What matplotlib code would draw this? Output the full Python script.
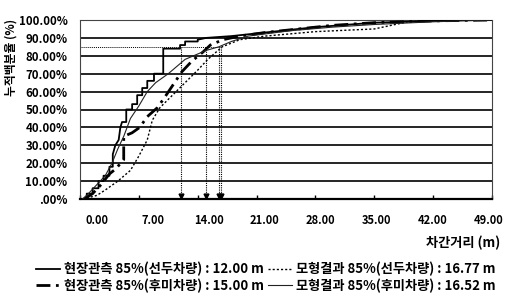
import matplotlib
matplotlib.use("Agg")
import matplotlib.pyplot as plt

plt.rcParams['font.family'] = ['Noto Sans CJK KR', 'DejaVu Sans']
plt.rcParams['font.weight'] = 'bold'

# observed (leading vehicle) - step-like curve
obs_lead_x = [0.3, 0.8, 0.8, 1.5, 1.5, 2.2, 2.2, 2.8, 2.8, 3.5, 3.5, 3.9, 3.9, 4.2, 4.6, 4.8, 5.0, 5.5,
              5.5, 6.2, 6.2, 6.8, 6.8, 7.4, 7.4, 8.0, 8.0, 8.8, 8.8, 9.9, 9.9, 11.9, 11.9, 12.5, 12.5,
              14.0, 14.0, 15.0, 18.0, 20.0, 24.0, 28.0, 35.0, 42.0, 45.0, 49.0]
obs_lead_y = [0, 0, 3, 3, 6, 6, 10, 10, 13, 13, 18, 18, 25, 30, 33, 40, 43, 43,
              50, 50, 53, 53, 58, 58, 62, 62, 66, 66, 70, 70, 84, 84, 86, 86, 88,
              88, 89, 90, 91, 92, 94, 96, 98.5, 99.5, 100, 100]

# observed (trailing vehicle) - dash-dot curve
obs_trail_x = [0.5, 1.5, 2.5, 3.5, 4.3, 5.0, 5.2, 5.2, 6.2, 7.1, 8.0, 9.2, 10.1, 11.1, 12.1, 13.3,
               14.6, 15.5, 17.0, 19.0, 22.0, 26.0, 30.0, 35.0, 42.0, 49.0]
obs_trail_y = [0, 3, 8, 14, 17, 21, 22, 35, 37, 40, 46, 51, 57, 64, 71, 77,
               82, 86, 89, 91, 93, 95, 97, 98.5, 99.5, 100]

# model (leading vehicle) - dotted smooth curve
mod_lead_x = [0.8, 2.0, 3.0, 4.5, 6.0, 7.0, 8.0, 8.6, 9.5, 11.0, 12.5, 14.0, 15.2, 16.9, 19.0,
              22.0, 28.0, 35.0, 39.0, 45.0, 49.0]
mod_lead_y = [0.5, 2, 5, 10, 16, 24, 33, 44, 51, 58, 65, 72, 78, 85, 89,
              91, 93.5, 95, 99, 100, 100]

# model (trailing vehicle) - thin solid curve
mod_trail_x = [0.3, 1.0, 2.0, 3.0, 3.8, 4.5, 5.2, 6.0, 7.0, 8.0, 9.0, 10.5, 12.5, 14.0, 15.0,
               16.5, 18.0, 20.0, 25.0, 30.0, 35.0, 42.0, 49.0]
mod_trail_y = [0, 3, 8, 13, 20, 28, 35, 45, 52, 60, 65, 70, 78, 81, 83,
               85, 88, 91, 94, 96, 97.5, 99, 100]

p85_values = [12.00, 15.00, 16.52, 16.77]

x_ticks = [0, 7, 14, 21, 28, 35, 42, 49]
x_tick_labels = ['0.00', '7.00', '14.00', '21.00', '28.00', '35.00', '42.00', '49.00']
y_ticks = [0, 10, 20, 30, 40, 50, 60, 70, 80, 90, 100]
y_tick_labels = ['.00%', '10.00%', '20.00%', '30.00%', '40.00%', '50.00%',
                 '60.00%', '70.00%', '80.00%', '90.00%', '100.00%']

legend_labels = ['현장관측 85%(선두차량) : 12.00 m', '현장관측 85%(후미차량) : 15.00 m',
                 '모형결과 85%(선두차량) : 16.77 m', '모형결과 85%(후미차량) : 16.52 m']

fig = plt.figure(figsize=(5.08, 2.99), dpi=100)
ax = fig.add_axes([80/508, 1-199/299, 412/508, 179/299])

ax.set_xlim(0, 49)
ax.set_ylim(0, 100)

# gridlines
for yv in y_ticks[1:-1]:
    ax.axhline(yv, color='black', lw=1.2, zorder=1)

# 85% guide lines
ax.hlines(85, 0, max(p85_values), colors='black', linestyles=(0, (1, 1)), lw=0.7, zorder=2)
for v in p85_values:
    ax.vlines(v, 0, 85, colors='black', linestyles=(0, (1, 1)), lw=0.8, zorder=2)
    ax.plot([v], [1.5], marker='v', color='black', ms=3.5, zorder=3, clip_on=False)

l1, = ax.plot(obs_lead_x, obs_lead_y, color='black', lw=1.3, zorder=4)
l2, = ax.plot(obs_trail_x, obs_trail_y, color='black', lw=2.0, ls=(0, (5, 2, 1, 2)), zorder=4)
l3, = ax.plot(mod_lead_x, mod_lead_y, color='black', lw=1.0, ls=(0, (1.5, 1.5)), zorder=4)
l4, = ax.plot(mod_trail_x, mod_trail_y, color='#222222', lw=0.8, zorder=4)

# spines
ax.spines['bottom'].set_linewidth(1.6)
for s in ['top', 'right', 'left']:
    ax.spines[s].set_linestyle((0, (1, 1)))
    ax.spines[s].set_linewidth(0.8)
    ax.spines[s].set_color('#444444')

ax.set_xticks(x_ticks)
ax.set_xticklabels([])
ax.tick_params(axis='x', direction='in', length=3, width=1)
# tick labels (offset like the original)
for i, lab in enumerate(x_tick_labels):
    ax.text(2.0 + i * 6.66, -12, lab, ha='center', va='center', fontsize=8,
            fontweight='bold', transform=ax.transData, clip_on=False)

ax.set_yticks(y_ticks)
ax.set_yticklabels(y_tick_labels, fontsize=8.3, fontweight='bold')
ax.tick_params(axis='y', length=0, pad=9)

fig.text(500/508, 1-243/299, '차간거리 (m)', ha='right', va='center', fontsize=9.5, fontweight='bold')
fig.text(11/508, 1-57/299, '누적백분율 (%)', ha='center', va='center', rotation=90,
         fontsize=8.5, fontweight='bold')

# legend
leg = fig.legend([l1, l2, l3, l4], legend_labels, ncol=2, frameon=False,
                 loc='center', bbox_to_anchor=(266/508, 1-277.5/299),
                 fontsize=9.5, handlelength=1.8, handletextpad=0.3, columnspacing=0.3,
                 labelspacing=0.15, borderpad=0)
for t in leg.get_texts():
    t.set_fontweight('bold')

fig.savefig('out.png', dpi=100)
